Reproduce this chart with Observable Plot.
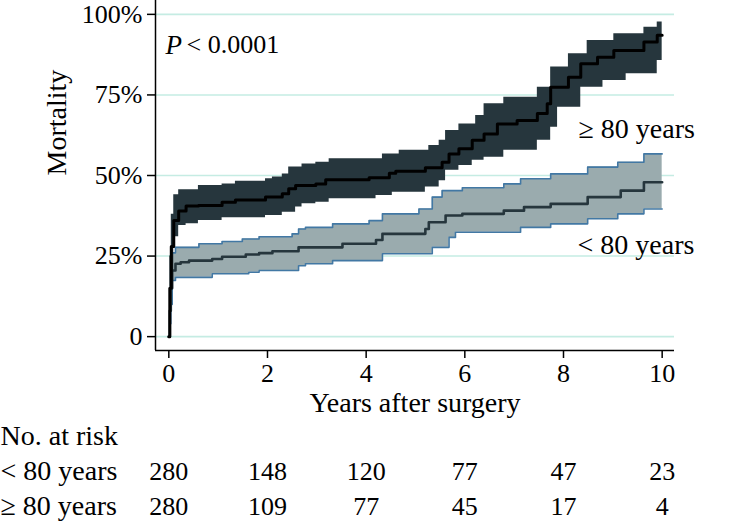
<!DOCTYPE html>
<html>
<head>
<meta charset="utf-8">
<script src="https://cdn.jsdelivr.net/npm/d3@7"></script>
<script src="https://cdn.jsdelivr.net/npm/@observablehq/plot@0.6"></script>
<style>
  html, body { margin: 0; padding: 0; background: #fff; }
  body { font-family: "Liberation Serif", "DejaVu Serif", serif; width: 756px; }
  #chart svg { display: block; }
</style>
</head>
<body>
<div id="chart"></div>
<script>
// ---- Data ----
// ≥ 80 years group: time (years), cumulative mortality (%), 95% CI lower / upper
const oldTime = [0, 0.02, 0.05, 0.1, 0.2, 0.35, 0.6, 1.08, 1.35, 1.96, 2.1, 2.3, 2.43, 2.57, 2.7, 2.98, 3.18, 3.25, 4.06, 4.2, 4.33, 4.47, 4.53, 4.6, 4.67, 5.2, 5.27, 5.48, 5.54, 5.61, 5.68, 5.88, 6.15, 6.22, 6.39, 6.66, 6.79, 7.06, 7.47, 7.67, 7.74, 7.88, 8.1, 8.35, 8.48, 8.69, 8.8, 9.02, 9.27, 9.63, 9.9, 10];
const oldEst  = [0, 15, 28, 36, 39, 40.5, 40.7, 41.7, 42.4, 43.3, 43.3, 44.3, 45.9, 46.9, 46.9, 47.4, 48.7, 48.7, 49.3, 49.3, 49.3, 50.7, 50.7, 51.3, 51.3, 52.4, 52.4, 52.4, 54.1, 54.1, 56.7, 58.3, 60.9, 60.9, 62.9, 66, 66, 67.1, 69.2, 72.3, 77.4, 77.4, 80.5, 84.7, 84.7, 86.7, 86.7, 88.8, 88.8, 91.4, 93.5, 93.5];
const oldLo   = [0, 8, 20, 31, 34.5, 35, 36, 36.9, 36.9, 37.6, 37.6, 38.6, 38.6, 40.2, 41.2, 41.7, 41.7, 42.8, 42.8, 43.8, 43.8, 43.8, 44.8, 44.8, 44.8, 46.4, 46.4, 48.4, 48.4, 51.6, 51.6, 53.1, 54.7, 54.7, 55.7, 55.7, 57.8, 57.8, 60.9, 60.9, 65, 71.2, 71.2, 77.4, 77.4, 77.4, 79.5, 79.5, 81.6, 81.6, 85.7, 85.7];
const oldHi   = [0, 25, 38, 44, 45.6, 45.6, 46.9, 47.4, 48.2, 49, 49.5, 50.5, 52.6, 52.6, 53.6, 54.1, 54.1, 55.2, 55.2, 55.2, 56.7, 56.7, 56.7, 56.7, 57.8, 57.8, 59.3, 60.9, 60.9, 64, 64, 66, 66, 68.6, 72.3, 72.3, 74.3, 74.3, 77.4, 77.4, 83.7, 83.7, 87.8, 87.8, 91.9, 91.9, 91.9, 94, 94, 96, 97.6, 97.6];

// < 80 years group
const youngTime = [0, 0.02, 0.04, 0.068, 0.135, 0.24, 0.41, 0.61, 0.88, 1.08, 1.49, 1.56, 1.62, 1.83, 2.1, 2.5, 2.63, 2.77, 3.32, 3.52, 4.06, 4.2, 4.33, 5.07, 5.2, 5.27, 5.34, 5.54, 5.61, 5.68, 5.81, 5.95, 6.79, 7.13, 7.2, 7.74, 8.49, 9.1, 9.16, 9.63, 10];
const youngEst  = [0, 8, 15, 20.5, 22.6, 23.1, 23.6, 23.6, 24.1, 24.8, 24.8, 25.5, 25.5, 25.9, 26.5, 26.5, 27.7, 27.7, 27.7, 28.8, 28.8, 30, 31.9, 31.9, 33.4, 35.5, 35.5, 35.5, 37.6, 37.6, 37.6, 38.1, 39.1, 39.1, 40.2, 41.2, 43.3, 43.3, 45.3, 47.9, 47.9];
const youngLo   = [0, 4, 10, 17.4, 18.4, 18.4, 18.4, 18.4, 19.5, 19.5, 19.5, 19.5, 20, 20.5, 20.5, 20.5, 22, 22.6, 23.6, 23.6, 23.6, 23.6, 25.7, 25.7, 25.7, 25.7, 27.7, 27.7, 27.7, 30.8, 32.4, 32.4, 32.4, 33.9, 33.9, 35, 36.6, 38.1, 38.1, 39.6, 39.6];
const youngHi   = [0, 14, 21, 26, 27.7, 27.7, 27.7, 28.8, 28.8, 29.5, 30.3, 30.3, 30.3, 31, 31, 31.9, 33.4, 33.9, 35, 35, 36, 36, 38.1, 39.6, 39.6, 39.6, 43.3, 45.3, 45.3, 45.3, 45.3, 46.2, 47.4, 49, 49, 50.5, 52.6, 54.1, 54.1, 56.7, 56.7];

// Number at risk table
const riskTimes = [0, 2, 4, 6, 8, 10];
const riskYoung = [280, 148, 120, 77, 47, 23];
const riskOld   = [280, 109, 77, 45, 17, 4];
const rowLabels = ["< 80 years", "≥ 80 years"];
const tableTitle = "No. at risk";

// Axis ticks and texts
const xTicks = [0, 2, 4, 6, 8, 10];
const yTicks = [0, 25, 50, 75, 100];
const xLabel = "Years after surgery";
const yLabel = "Mortality";
const groupLabels = ["≥ 80 years", "< 80 years"];

// ---- Build tables ----
const rowsOf = (t, est, lo, hi) => t.map((v, i) => ({t: v, est: est[i], lo: lo[i], hi: hi[i]}));
const oldData = rowsOf(oldTime, oldEst, oldLo, oldHi);
const youngData = rowsOf(youngTime, youngEst, youngLo, youngHi);
const riskData = riskTimes.flatMap((t, i) => [
  {t, row: rowLabels[0], n: riskYoung[i]},
  {t, row: rowLabels[1], n: riskOld[i]}
]);

// ---- Layout ----
const W = 756, ML = 155, MR = 82;
const xDomain = [-0.27, 10.25];
const yDomain = [-4.3, 104.3];
const FONT = "'Liberation Serif', 'DejaVu Serif', serif";

const DARK = "#26363d";
const LIGHT = "#9aabae";
const BLUE = "#4278a4";
const GRID = "#c5ece3";

const main = Plot.plot({
  width: W, height: 430,
  marginLeft: ML, marginRight: MR, marginTop: 0, marginBottom: 80,
  style: {fontFamily: FONT, fontSize: "26px", color: "#000", background: "#fff", overflow: "visible"},
  x: {domain: xDomain},
  y: {domain: yDomain},
  marks: [
    Plot.gridY(yTicks, {stroke: GRID, strokeOpacity: 1, strokeWidth: 1.6}),
    // < 80 years band
    Plot.areaY(youngData, {x: "t", y1: "lo", y2: "hi", curve: "step-after", fill: LIGHT}),
    Plot.lineY(youngData, {x: "t", y: "lo", curve: "step-after", stroke: BLUE, strokeWidth: 1.6}),
    Plot.lineY(youngData, {x: "t", y: "hi", curve: "step-after", stroke: BLUE, strokeWidth: 1.6}),
    Plot.lineY(youngData, {x: "t", y: "est", curve: "step-after", stroke: DARK, strokeWidth: 2.6}),
    // ≥ 80 years band
    Plot.areaY(oldData, {x: "t", y1: "lo", y2: "hi", curve: "step-after", fill: DARK}),
    Plot.lineY(oldData, {x: "t", y: "est", curve: "step-after", stroke: "#000", strokeWidth: 3}),
    // axis lines
    Plot.ruleX([xDomain[0]], {stroke: "#000", strokeWidth: 1.5}),
    Plot.ruleY([yDomain[0]], {stroke: "#000", strokeWidth: 1.5}),
    Plot.axisX(xTicks, {tickSize: 8, tickPadding: 5, label: null, fontSize: 26, strokeWidth: 1.5}),
    Plot.axisY(yTicks, {tickSize: 8, tickPadding: 5, label: null, fontSize: 26, strokeWidth: 1.5,
      tickFormat: d => d === 0 ? "0" : d + "%"}),
    Plot.text([yLabel], {text: d => d, frameAnchor: "left", rotate: -90, dx: -98, fontSize: 28}),
    Plot.text([xLabel], {text: d => d, frameAnchor: "bottom", dy: 61, fontSize: 28}),
    Plot.text(["P"], {text: d => d, frameAnchor: "top-left", dx: 10, dy: 34, textAnchor: "start", fontStyle: "italic", fontSize: 27}),
    Plot.text(["< 0.0001"], {text: d => d, frameAnchor: "top-left", dx: 31, dy: 34, textAnchor: "start", fontSize: 26}),
    Plot.text([groupLabels[0]], {text: d => d, frameAnchor: "top-left", dx: 423, dy: 118, textAnchor: "start", fontSize: 28}),
    Plot.text([groupLabels[1]], {text: d => d, frameAnchor: "top-left", dx: 422, dy: 234, textAnchor: "start", fontSize: 28})
  ]
});

const table = Plot.plot({
  width: W, height: 96,
  marginLeft: ML, marginRight: MR, marginTop: 0, marginBottom: 0,
  style: {fontFamily: FONT, fontSize: "26px", color: "#000", background: "#fff", overflow: "visible"},
  x: {domain: xDomain, axis: null},
  y: {type: "point", domain: [tableTitle, ...rowLabels], range: [6, 76], padding: 0, axis: null},
  marks: [
    Plot.text(riskData, {x: "t", y: "row", text: d => String(d.n), fontSize: 26}),
    Plot.text([tableTitle, ...rowLabels], {y: d => d, text: d => d, frameAnchor: "left", dx: -ML, textAnchor: "start", fontSize: 28})
  ]
});

const el = document.getElementById("chart");
el.appendChild(main);
el.appendChild(table);
</script>
</body>
</html>
